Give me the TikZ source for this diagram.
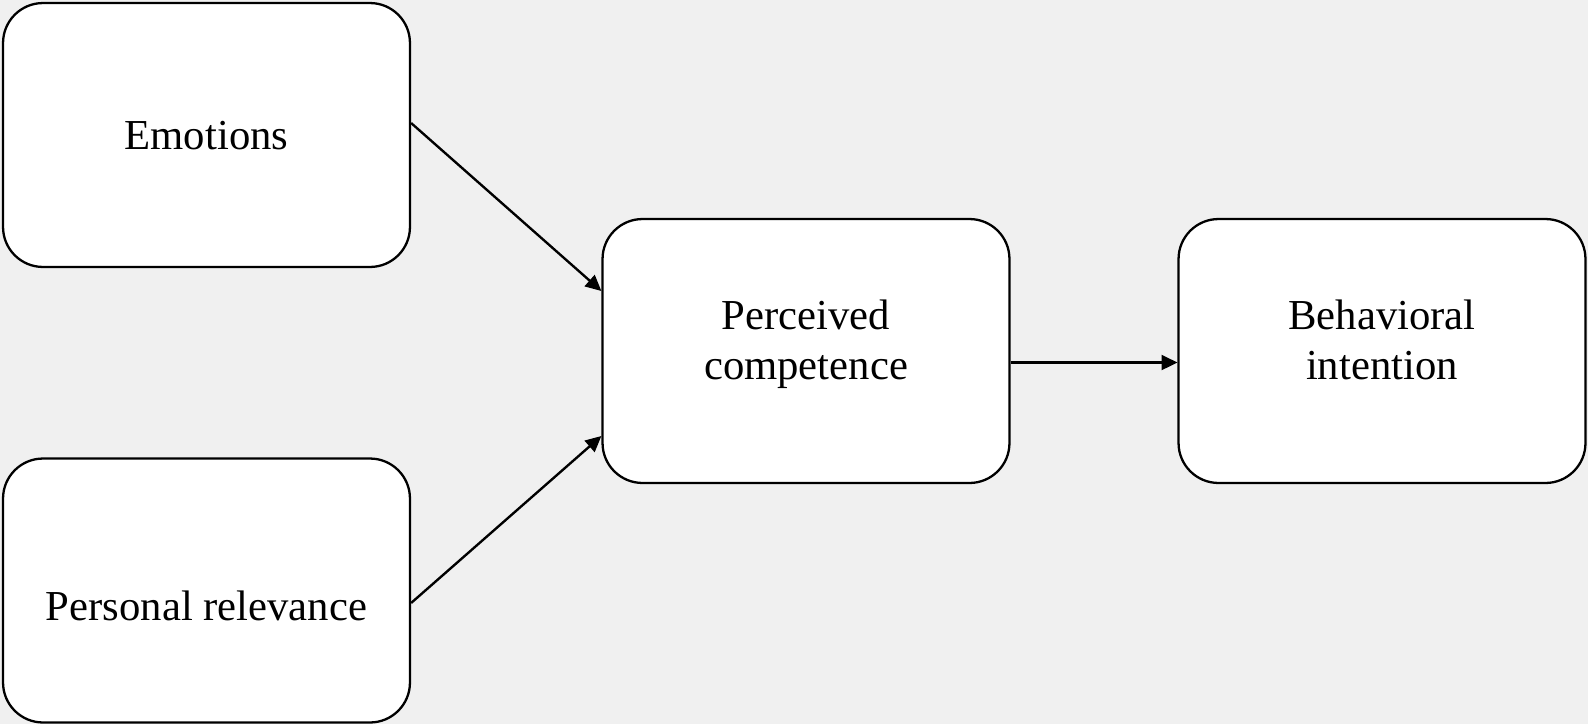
\documentclass[tikz,border=0pt]{standalone}
\usepackage{fontspec}
\setmainfont{Liberation Serif}
\usetikzlibrary{calc,arrows.meta}
\definecolor{bgcol}{HTML}{F0F0F0}
\tikzset{
  box/.style={draw=black, fill=white, line width=1.3pt, rounded corners=0.8cm,
    minimum width=8.14cm, minimum height=5.28cm, inner sep=0pt},
  lbl/.style={anchor=base, align=center, inner sep=0pt, font=\fontsize{24.3}{28.35}\selectfont},
  conn/.style={line width=1.35pt, -{Triangle[length=9pt,width=8.5pt]}}
}
\begin{document}
\begin{tikzpicture}[x=0.02cm,y=-0.02cm]
\fill[bgcol] (0,0) rectangle (1588,724);
\useasboundingbox (0,0) rectangle (1588,724);
\node[box] (emo) at (206.5,135) {};
\node[box] (pers) at (206.5,590.5) {};
\node[box] (perc) at (806,351) {};
\node[box] (beh) at (1382,351) {};
\node[lbl] (temo) at (206.5,149) {Emotions};
\node[lbl] (tpers) at (206.5,620) {Personal relevance};
\node[lbl] (tperc) at (806,379) {Perceived\\competence};
\node[lbl] (tbeh) at (1382,379) {Behavioral\\intention};
\draw[conn] ($(emo.east)+(0,-12)$) -- ($(perc.west)+(0,-60)$);
\draw[conn] ($(pers.east)+(0,12.5)$) -- ($(perc.west)+(0,85)$);
\draw[conn] ($(perc.east)+(0,11.5)$) -- ($(beh.west)+(0,11.5)$);
\end{tikzpicture}
\end{document}
